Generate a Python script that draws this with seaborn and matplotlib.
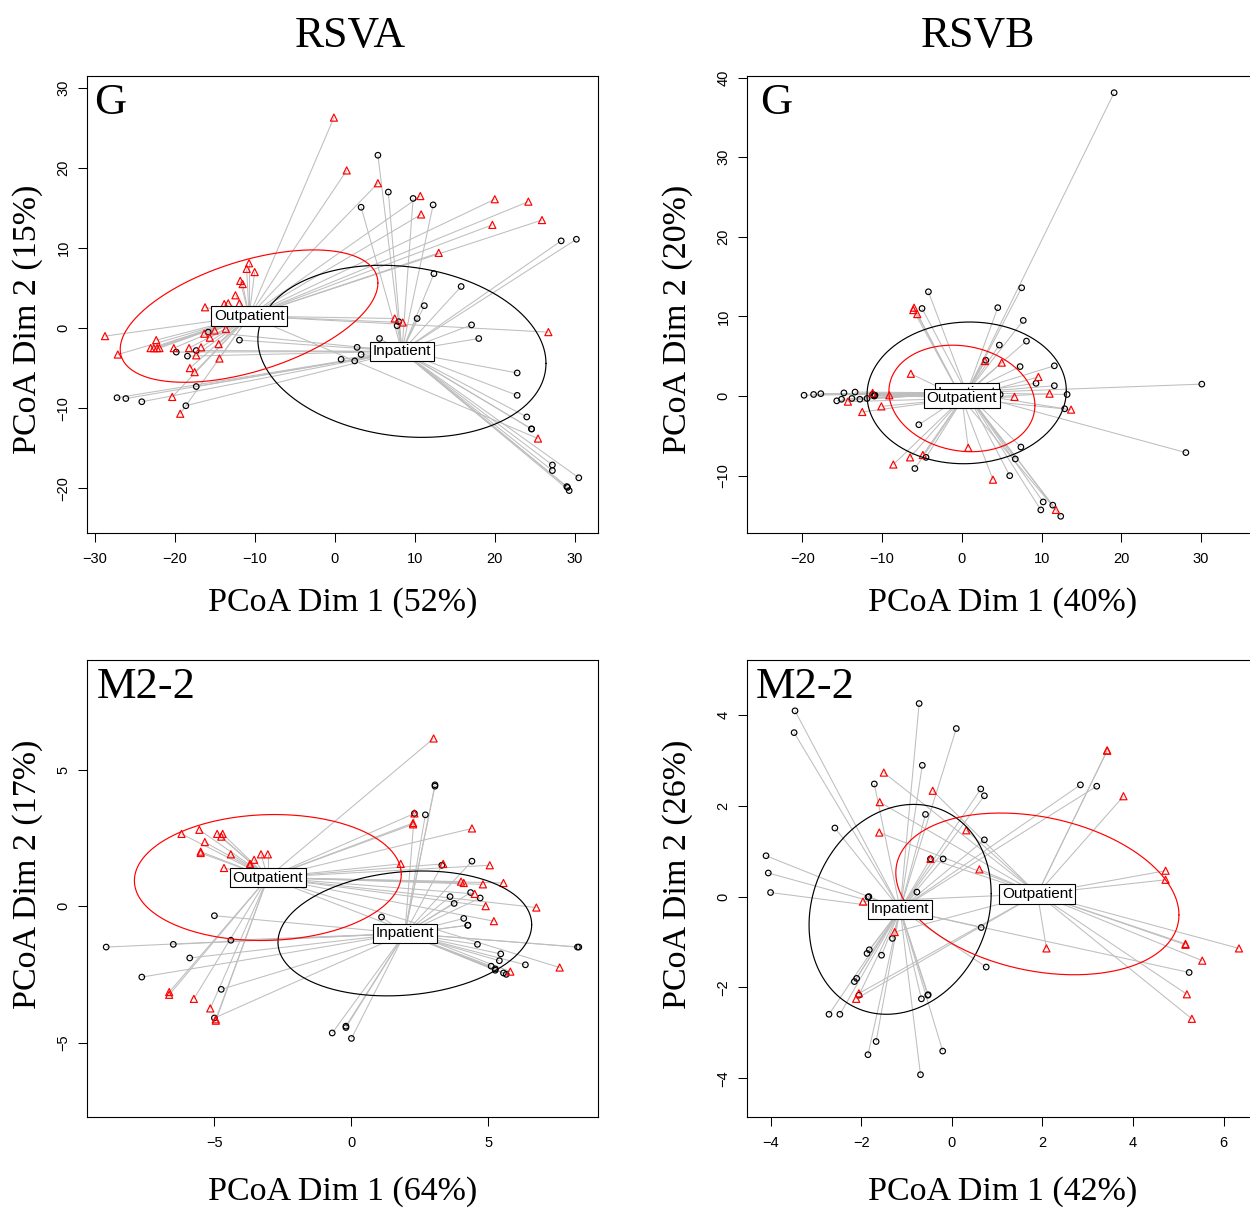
import numpy as np
import pandas as pd
import matplotlib
matplotlib.use('Agg')
import matplotlib.pyplot as plt
from matplotlib.collections import LineCollection
import seaborn as sns


# ---- RSVA, G gene (PCoA Dim 1 52%, Dim 2 15%)
rsva_g_in_x = [5.4, 6.7, 3.3, 9.8, 12.3, 28.3, 30.2, 12.4, 15.8, 11.2, 10.3, 8.0, 7.8, 17.1, 18.0,
               5.6, 2.8, 3.3, 0.8, 2.5, 22.8, 22.8, 24.0, 24.6, 24.6, 27.2, 27.2, 30.5, 29.0, 29.1,
               29.3, -11.9, -15.8, -17.3, -19.8, -18.4, -17.3, -18.6, -27.2, -26.1, -24.1]
rsva_g_in_y = [21.6, 17.0, 15.1, 16.2, 15.4, 10.9, 11.1, 6.8, 5.2, 2.8, 1.2, 0.8, 0.3, 0.4, -1.3,
               -1.3, -2.4, -3.3, -3.9, -4.1, -5.6, -8.4, -11.1, -12.6, -12.6, -17.1, -17.8, -18.7, -19.8, -19.9,
               -20.3, -1.5, -0.5, -2.8, -3.0, -3.5, -7.3, -9.7, -8.7, -8.8, -9.2]
rsva_g_out_x = [-0.1, 1.5, 5.4, 10.7, 10.8, 20.0, 24.2, 25.9, 19.7, 13.0, 26.7, 25.4, 7.5, 8.5, -10.7,
                -11.0, -10.0, -11.8, -11.5, -12.4, -13.8, -13.3, -11.9, -16.2, -28.7, -27.1, -22.3, -23.0, -22.6, -22.2,
                -21.9, -20.1, -18.2, -16.7, -17.3, -16.3, -15.0, -13.6, -15.6, -14.5, -14.4, -18.1, -17.5, -20.3, -19.3]
rsva_g_out_y = [26.3, 19.7, 18.1, 16.5, 14.2, 16.1, 15.8, 13.5, 12.9, 9.4, -0.5, -13.8, 1.2, 0.7, 8.1,
                7.4, 7.0, 5.9, 5.5, 4.1, 3.0, 3.1, 3.1, 2.6, -1.0, -3.3, -1.5, -2.5, -2.5, -2.5,
                -2.5, -2.5, -2.5, -2.4, -3.4, -0.7, -0.3, -0.1, -1.2, -2.0, -3.8, -5.0, -5.5, -8.6, -10.7]
rsva_g_centroids = {'Inpatient': (8.4, -2.9), 'Outpatient': (-10.7, 1.5)}
# ellipse: half x-extent, half y-extent, correlation
rsva_g_ellipses = {'Inpatient': (18.0, 10.75, -0.14), 'Outpatient': (16.1, 8.27, 0.50)}

# ---- RSVB, G gene (40%, 20%)
rsvb_g_in_x = [19.1, -4.2, -5.0, 4.5, 7.5, 7.7, 8.1, 4.7, 3.0, 7.3, 11.6, 9.3, 11.6, 13.2, 4.8,
               30.1, 28.1, 12.9, -5.4, -4.5, -5.9, 7.4, 6.7, 6.0, 10.2, 11.4, 9.9, 12.4, -19.8, -18.6,
               -17.7, -14.8, -13.4, -15.7, -15.1, -13.8, -12.8, -11.9, -11.2, -11.0, -11.0, -10.9]
rsvb_g_in_y = [38.1, 13.1, 11.0, 11.1, 13.6, 9.5, 6.9, 6.4, 4.5, 3.7, 3.8, 1.6, 1.3, 0.2, 0.2,
               1.5, -7.1, -1.6, -3.6, -7.7, -9.1, -6.4, -7.9, -10.0, -13.3, -13.7, -14.3, -15.1, 0.1, 0.2,
               0.3, 0.4, 0.5, -0.6, -0.4, -0.3, -0.4, -0.3, 0.2, 0.1, 0.0, 0.1]
rsvb_g_out_x = [-6.0, -6.1, -5.6, 2.9, 5.0, -6.4, 9.6, 11.0, 6.6, 13.7, 0.8, 3.9, 11.8, -8.6, -6.5,
                -4.9, -9.1, -10.1, -12.5, -14.3, -11.2]
rsvb_g_out_y = [11.1, 10.8, 10.3, 4.4, 4.2, 2.8, 2.4, 0.3, -0.1, -1.7, -6.5, -10.5, -14.3, -8.6, -7.7,
                -7.4, 0.1, -1.3, -2.0, -0.7, 0.4]
rsvb_g_centroids = {'Inpatient': (0.6, 0.4), 'Outpatient': (0.0, -0.3)}
rsvb_g_ellipses = {'Inpatient': (12.5, 8.9, 0.03), 'Outpatient': (9.16, 6.69, -0.13)}

# ---- RSVA, M2-2 gene (64%, 17%)
rsva_m_in_x = [3.05, 3.05, 2.3, 2.7, 3.3, 4.4, 3.6, 4.35, 4.7, 3.75, 1.1, 4.1, 4.25, 4.25, 4.6,
               5.45, 5.4, 6.35, 5.1, 5.25, 5.25, 5.55, 5.65, 8.25, 8.3, -0.7, -0.2, -0.2, 0.0, -5.0,
               -4.4, -6.5, -8.95, -5.9, -7.65, -4.75, -5.0]
rsva_m_in_y = [4.45, 4.4, 3.4, 3.35, 1.5, 1.65, 0.35, 0.5, 0.3, 0.1, -0.4, -0.45, -0.7, -0.7, -1.4,
               -1.75, -2.0, -2.15, -2.2, -2.3, -2.35, -2.45, -2.5, -1.5, -1.5, -4.65, -4.4, -4.45, -4.85, -0.35,
               -1.25, -1.4, -1.5, -1.9, -2.6, -3.05, -4.1]
rsva_m_out_x = [3.0, 2.3, 2.25, 2.25, 4.4, 1.8, 3.35, 5.05, 4.0, 4.1, 4.8, 5.55, 4.5, 4.9, 6.75,
                5.2, 7.6, 5.8, -6.2, -5.55, -4.9, -4.7, -4.75, -5.35, -5.5, -5.5, -4.4, -4.65, -3.7, -3.7,
                -3.55, -3.3, -3.05, -6.65, -6.65, -5.75, -5.15, -4.95, -4.95]
rsva_m_out_y = [6.15, 3.4, 3.05, 3.0, 2.85, 1.55, 1.55, 1.5, 0.9, 0.85, 0.8, 0.85, 0.45, 0.0, -0.05,
                -0.55, -2.25, -2.4, 2.65, 2.8, 2.65, 2.65, 2.55, 2.35, 2.0, 1.95, 1.9, 1.4, 1.55, 1.5,
                1.7, 1.9, 1.9, -3.15, -3.25, -3.4, -3.75, -4.15, -4.2]
rsva_m_centroids = {'Inpatient': (1.95, -1.0), 'Outpatient': (-3.05, 1.05)}
rsva_m_ellipses = {'Inpatient': (4.63, 2.29, 0.14), 'Outpatient': (4.87, 2.31, 0.05)}

# ---- RSVB, M2-2 gene (42%, 26%)
rsvb_m_in_x = [-3.46, -3.48, -0.72, 0.10, -0.65, -1.71, 0.64, 0.72, -0.58, -2.58, 0.72, -0.47, -0.19, -0.77, -4.10,
               -4.05, -4.00, -1.85, -1.83, 0.65, -1.31, -1.82, -1.87, -1.55, -2.10, -2.15, -2.05, -0.53, -0.52, -0.67,
               0.76, -2.71, -2.47, -1.67, -1.85, -0.20, -0.69, 2.84, 3.20, 5.24]
rsvb_m_in_y = [4.09, 3.61, 4.25, 3.70, 2.89, 2.48, 2.37, 2.22, 1.81, 1.51, 1.25, 0.83, 0.83, 0.10, 0.90,
               0.52, 0.09, -0.01, 0.00, -0.68, -0.92, -1.17, -1.25, -1.29, -1.80, -1.87, -2.17, -2.17, -2.16, -2.25,
               -1.55, -2.59, -2.59, -3.19, -3.48, -3.40, -3.92, 2.46, 2.43, -1.67]
rsvb_m_out_x = [-1.50, -0.42, -1.59, -1.60, 0.32, -0.47, 0.61, -1.96, -1.26, -2.05, -2.11, 3.43, 3.43, 3.79, 4.72,
                4.72, 2.09, 5.16, 5.16, 5.53, 6.34, 5.19, 5.30]
rsvb_m_out_y = [2.73, 2.33, 2.08, 1.41, 1.46, 0.83, 0.60, -0.11, -0.78, -2.13, -2.25, 3.22, 3.21, 2.21, 0.57,
                0.37, -1.14, -1.04, -1.06, -1.41, -1.14, -2.15, -2.69]
rsvb_m_centroids = {'Inpatient': (-1.14, -0.28), 'Outpatient': (1.89, 0.06)}
rsvb_m_ellipses = {'Inpatient': (2.01, 2.31, 0.15), 'Outpatient': (3.125, 1.78, -0.26)}

panel_titles = ['G', 'G', 'M2-2', 'M2-2']
x_labels = ['PCoA Dim 1 (52%)', 'PCoA Dim 1 (40%)', 'PCoA Dim 1 (64%)', 'PCoA Dim 1 (42%)']
y_labels = ['PCoA Dim 2 (15%)', 'PCoA Dim 2 (20%)', 'PCoA Dim 2 (17%)', 'PCoA Dim 2 (26%)']
column_titles = ['RSVA', 'RSVB']

GROUP_COLORS = {'Inpatient': 'black', 'Outpatient': 'red'}
GROUP_MARKERS = {'Inpatient': 'o', 'Outpatient': '^'}
GROUP_SIZES = {'Inpatient': 16, 'Outpatient': 26}
SPIDER_COLOR = '#BEBEBE'
SERIF = 'Liberation Serif'

panels = [
    dict(data=(rsva_g_in_x, rsva_g_in_y, rsva_g_out_x, rsva_g_out_y), cen=rsva_g_centroids, ell=rsva_g_ellipses,
         pos=[0.0696, 0.5595, 0.4088, 0.3777], xlim=(-30.95, 32.9), ylim=(-25.6, 31.5),
         xticks=np.arange(-30, 31, 10), yticks=np.arange(-20, 31, 10), tx=0.014, ylc=(-0.1164, 0.468), xly=-0.153),
    dict(data=(rsvb_g_in_x, rsvb_g_in_y, rsvb_g_out_x, rsvb_g_out_y), cen=rsvb_g_centroids, ell=rsvb_g_ellipses,
         pos=[0.5976, 0.5595, 0.4088, 0.3777], xlim=(-26.96, 37.15), ylim=(-17.2, 40.2),
         xticks=np.arange(-20, 31, 10), yticks=np.arange(-10, 41, 10), tx=0.025, ylc=(-0.136, 0.468), xly=-0.153),
    dict(data=(rsva_m_in_x, rsva_m_in_y, rsva_m_out_x, rsva_m_out_y), cen=rsva_m_centroids, ell=rsva_m_ellipses,
         pos=[0.0696, 0.0769, 0.4088, 0.3777], xlim=(-9.65, 9.0), ylim=(-7.73, 9.03),
         xticks=[-5, 0, 5], yticks=[-5, 0, 5], tx=0.019, ylc=(-0.1164, 0.532), xly=-0.163),
    dict(data=(rsvb_m_in_x, rsvb_m_in_y, rsvb_m_out_x, rsvb_m_out_y), cen=rsvb_m_centroids, ell=rsvb_m_ellipses,
         pos=[0.5976, 0.0769, 0.4088, 0.3777], xlim=(-4.52, 6.76), ylim=(-4.85, 5.21),
         xticks=np.arange(-4, 7, 2), yticks=np.arange(-4, 5, 2), tx=0.017, ylc=(-0.136, 0.532), xly=-0.163),
]

sns.set_theme(style='ticks', rc={'axes.edgecolor': 'black', 'axes.linewidth': 0.8,
                                 'text.color': 'black', 'axes.labelcolor': 'black',
                                 'xtick.color': 'black', 'ytick.color': 'black',
                                 'xtick.major.size': 6.7, 'ytick.major.size': 6.7,
                                 'xtick.major.width': 0.75, 'ytick.major.width': 0.75})
plt.rcParams['font.family'] = ['Liberation Sans', 'DejaVu Sans']

fig = plt.figure(figsize=(12.5, 12.1), dpi=100)

for i, p in enumerate(panels):
    ax = fig.add_axes(p['pos'])
    in_x, in_y, out_x, out_y = p['data']
    df = pd.concat([
        pd.DataFrame({'x': in_x, 'y': in_y, 'group': 'Inpatient'}),
        pd.DataFrame({'x': out_x, 'y': out_y, 'group': 'Outpatient'}),
    ], ignore_index=True)

    # spider lines from group centroid to each sample
    segs = [[p['cen'][g], (x, y)] for x, y, g in zip(df['x'], df['y'], df['group'])]
    ax.add_collection(LineCollection(segs, colors=SPIDER_COLOR, linewidths=0.75, zorder=1))

    sns.scatterplot(data=df, x='x', y='y', hue='group', style='group', size='group',
                    palette=GROUP_COLORS, markers=GROUP_MARKERS, sizes=GROUP_SIZES,
                    legend=False, ax=ax, zorder=3)
    pts = ax.collections[-1]
    pts.set_edgecolors(pts.get_facecolors())
    pts.set_facecolors('none')
    pts.set_linewidths(0.85)

    # dispersion ellipses
    t = np.linspace(0, 2 * np.pi, 300)
    for g in ['Inpatient', 'Outpatient']:
        cx, cy = p['cen'][g]
        sx, sy, r = p['ell'][g]
        ex = cx + sx * np.cos(t)
        ey = cy + sy * (r * np.cos(t) + np.sqrt(1 - r ** 2) * np.sin(t))
        ax.plot(ex, ey, color=GROUP_COLORS[g], lw=0.85, zorder=4)

    for k, g in enumerate(['Inpatient', 'Outpatient']):
        cx, cy = p['cen'][g]
        ax.text(cx, cy, g, ha='center', va='center', fontsize=11, zorder=5 + k,
                bbox=dict(boxstyle='square,pad=0.18', fc='white', ec='black', lw=0.8))

    ax.set_xlim(p['xlim'])
    ax.set_ylim(p['ylim'])
    ax.set_xticks(p['xticks'])
    ax.set_yticks(p['yticks'])
    ax.tick_params(axis='x', labelsize=10.5, pad=7)
    ax.tick_params(axis='y', labelsize=10.5, pad=5, labelrotation=90)
    for lab in ax.get_yticklabels():
        lab.set_va('center')
    for s in ax.spines.values():
        s.set_visible(True)

    ax.set_xlabel(x_labels[i], family=SERIF, fontsize=24.5)
    ax.set_ylabel(y_labels[i], family=SERIF, fontsize=24.5)
    ax.xaxis.label.set_va('center')
    ax.yaxis.label.set_va('center')
    ax.xaxis.set_label_coords(0.5, p['xly'])
    ax.yaxis.set_label_coords(*p['ylc'])

    ax.text(p['tx'], 0.916, panel_titles[i], transform=ax.transAxes, family=SERIF,
            fontsize=32, ha='left', va='baseline', zorder=8)

fig.text(0.28, 1 - 47 / 1210, column_titles[0], family=SERIF, fontsize=31.5, ha='center', va='baseline')
fig.text(0.7824, 1 - 47 / 1210, column_titles[1], family=SERIF, fontsize=31.5, ha='center', va='baseline')

fig.savefig('out.png', dpi=100)
